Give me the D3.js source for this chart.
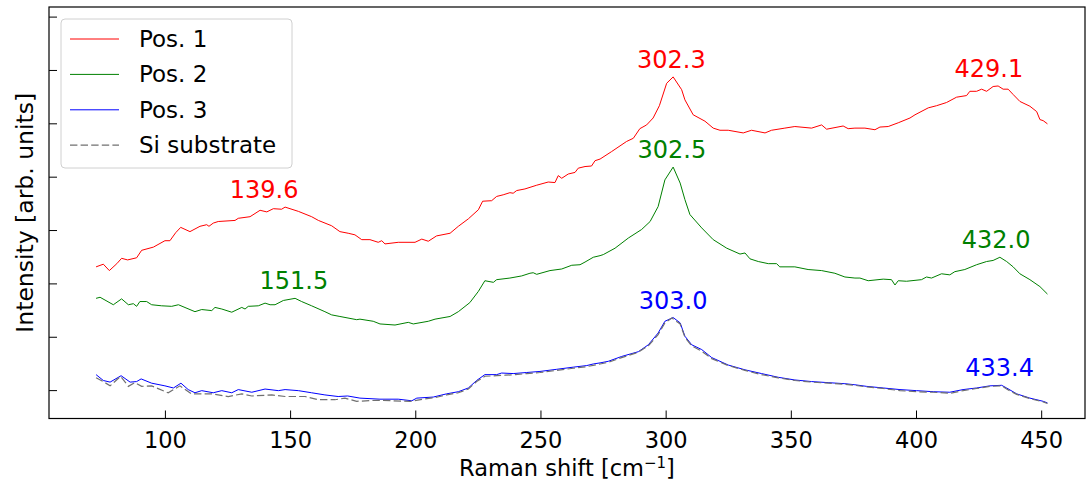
<!DOCTYPE html>
<html>
<head>
<meta charset="utf-8">
<script src="https://cdn.jsdelivr.net/npm/d3@7"></script>
<style>
    body { margin: 0; background: #fff; }
    #chart { width: 1086px; height: 482px; }
    text { font-family: "DejaVu Sans", sans-serif; }
</style>
</head>
<body>
<div id="chart"></div>
<script>

// Raman spectra (x in cm-1, intensity in arb. units)
const pos1X = [72.5, 75.4, 77.8, 80.8, 82.7, 85.1, 88.7, 90.7, 95.4, 100, 102, 104.3, 106.3, 110, 114, 116.7, 117.6, 119.3, 121.3, 128, 129.3, 134, 138, 140.7, 143.3, 146.6, 148, 153.3, 158.6, 161.3, 166.6, 169.9, 173.2, 175.9, 178.6, 181.9, 185.2, 186.6, 187.9, 193.2, 199.9, 202.6, 205.2, 208.5, 213.9, 217.2, 221.2, 225.2, 226.9, 230.5, 232.5, 235.1, 237.8, 239.1, 240.5, 243.8, 248.5, 253.1, 255.8, 257.1, 258.5, 261.1, 263.8, 265.1, 267.8, 270.4, 271.8, 273.8, 278.4, 284.4, 287.1, 289.7, 292.4, 295, 297.5, 300.4, 303, 306.4, 307.7, 311, 315.7, 319, 321.7, 325, 331, 334.3, 339.7, 342.3, 347.6, 351.6, 358.3, 362.3, 364.3, 370.9, 372.9, 375.6, 379.6, 383.6, 385.6, 388.9, 392.9, 397.6, 399.6, 404.9, 408.2, 412.2, 416.2, 420.2, 421.5, 424.2, 426.2, 428.2, 430.8, 432.8, 434.8, 436.8, 438.8, 441.5, 445.5, 448.2, 449.5, 450.8, 452.5];
const pos1Y = [2.31, 2.36, 2.24, 2.37, 2.47, 2.44, 2.48, 2.62, 2.68, 2.80, 2.80, 2.95, 3.05, 2.97, 3.07, 3.10, 3.07, 3.13, 3.16, 3.18, 3.22, 3.25, 3.37, 3.34, 3.40, 3.39, 3.43, 3.35, 3.25, 3.18, 3.08, 2.97, 2.94, 2.91, 2.82, 2.82, 2.77, 2.80, 2.74, 2.77, 2.77, 2.83, 2.79, 2.89, 2.94, 3.07, 3.21, 3.38, 3.54, 3.55, 3.63, 3.66, 3.70, 3.69, 3.74, 3.77, 3.84, 3.90, 3.89, 4.02, 3.97, 4.05, 4.08, 4.16, 4.19, 4.20, 4.30, 4.33, 4.47, 4.66, 4.72, 4.90, 4.97, 5.10, 5.33, 5.75, 5.87, 5.63, 5.44, 5.16, 5.04, 4.91, 4.87, 4.87, 4.82, 4.87, 4.82, 4.87, 4.91, 4.94, 4.91, 4.97, 4.89, 4.95, 4.90, 4.91, 4.91, 4.88, 4.93, 4.94, 5.01, 5.10, 5.16, 5.29, 5.33, 5.39, 5.49, 5.52, 5.60, 5.60, 5.64, 5.60, 5.69, 5.70, 5.64, 5.64, 5.54, 5.41, 5.32, 5.22, 5.07, 5.05, 4.99];

const pos2X = [72.5, 74.1, 79.4, 82.7, 85.4, 87.4, 88.7, 90, 92.7, 94.7, 98.7, 102.7, 105.4, 112, 114.7, 118.7, 120, 122.7, 126.7, 130.7, 132, 133.3, 137.3, 140, 142, 144, 147.3, 152, 154.6, 158.6, 163.9, 166.6, 169.9, 176.6, 177.9, 183.2, 185.9, 191.9, 197.2, 199.2, 205.2, 207.9, 213.9, 217.2, 221.8, 225.2, 227.8, 231.2, 232.5, 237.8, 242.5, 245.8, 247.1, 248.5, 253.8, 258.5, 262.5, 265.8, 267.8, 271.1, 273.8, 275.1, 279.8, 285.1, 290.4, 293.8, 297, 299.7, 303, 305.8, 307.7, 309.7, 314.4, 319, 324.4, 329.7, 331.7, 333.7, 337, 341, 344.3, 345.6, 351.6, 356.9, 362.3, 367.6, 371.6, 375.6, 377.6, 380.9, 386.9, 390.2, 391.6, 392.9, 396.2, 402.2, 404.2, 406.2, 410.2, 413.5, 415.5, 419.5, 424.2, 428.2, 430.8, 433.5, 436.2, 438.8, 441.5, 445.5, 449.5, 452.5];
const pos2Y = [1.72, 1.74, 1.60, 1.71, 1.60, 1.62, 1.57, 1.66, 1.66, 1.60, 1.58, 1.57, 1.60, 1.47, 1.51, 1.49, 1.55, 1.52, 1.46, 1.55, 1.52, 1.57, 1.58, 1.63, 1.60, 1.60, 1.68, 1.72, 1.66, 1.58, 1.47, 1.41, 1.38, 1.32, 1.33, 1.29, 1.24, 1.22, 1.27, 1.24, 1.29, 1.33, 1.38, 1.47, 1.64, 1.85, 2.05, 2.02, 2.07, 2.10, 2.14, 2.19, 2.20, 2.17, 2.24, 2.27, 2.34, 2.35, 2.40, 2.49, 2.52, 2.54, 2.66, 2.85, 3.01, 3.16, 3.44, 3.94, 4.18, 3.88, 3.57, 3.29, 3.04, 2.82, 2.66, 2.55, 2.57, 2.46, 2.41, 2.37, 2.37, 2.31, 2.31, 2.26, 2.24, 2.19, 2.12, 2.10, 2.10, 2.05, 2.08, 2.07, 1.97, 2.05, 2.04, 2.07, 2.12, 2.10, 2.18, 2.16, 2.22, 2.26, 2.35, 2.41, 2.43, 2.49, 2.41, 2.31, 2.18, 2.07, 1.94, 1.80];

const pos3X = [72.5, 75.4, 78.1, 82.5, 86.1, 88.7, 90.5, 94.7, 100, 103.4, 106.4, 109.3, 112, 114.7, 119.3, 122.7, 126.7, 129.3, 134.7, 140, 145.3, 148, 153.3, 158.6, 163.9, 169.2, 173, 177.9, 185.9, 193.2, 198.6, 200.6, 207.2, 212.5, 217.2, 221.2, 224.5, 227.8, 232.5, 234.5, 239.1, 244.5, 249.8, 256.5, 263.1, 268.5, 271.1, 273.8, 277.1, 282.4, 289.1, 293.1, 297, 299.7, 303, 305.8, 307.7, 310.4, 314.4, 318.4, 325, 331.7, 338.3, 345, 351.6, 358.3, 364.9, 371.6, 375.6, 380.3, 386.9, 393.6, 400.2, 406.9, 413.5, 418.8, 424.2, 429.5, 434.2, 436.2, 440.2, 445.5, 450.8, 452.5];
const pos3Y = [0.29, 0.18, 0.15, 0.27, 0.15, 0.16, 0.21, 0.13, 0.08, 0.04, 0.13, 0.01, -0.05, -0.01, -0.05, -0.01, -0.05, 0.01, -0.04, 0.02, -0.01, 0.01, -0.01, -0.05, -0.09, -0.12, -0.11, -0.15, -0.17, -0.17, -0.20, -0.15, -0.13, -0.07, -0.03, 0.04, 0.18, 0.29, 0.29, 0.32, 0.31, 0.33, 0.35, 0.39, 0.43, 0.46, 0.49, 0.51, 0.54, 0.63, 0.72, 0.85, 1.07, 1.29, 1.36, 1.26, 1.01, 0.85, 0.76, 0.61, 0.47, 0.38, 0.31, 0.24, 0.19, 0.16, 0.14, 0.12, 0.10, 0.07, 0.04, 0.01, -0.01, -0.03, -0.04, 0.01, 0.04, 0.08, 0.09, 0.04, -0.07, -0.15, -0.21, -0.24];

const siX = [72.5, 75.4, 78.1, 82.3, 85.4, 88, 90.7, 94.7, 101.3, 106, 110.6, 118.7, 125.3, 130.7, 134.7, 142.7, 148, 156, 161.3, 167.9, 171.9, 176.6, 185, 191, 198, 203, 208, 212.5, 217.2, 221.2, 224.5, 227.8, 232.5, 236, 240, 244.5, 249.8, 256.5, 263.1, 268.5, 273.8, 277.1, 282.4, 289.1, 293.1, 297, 299.7, 302.5, 305.8, 307.7, 310.4, 314.4, 318.4, 325, 331.7, 338.3, 345, 351.6, 358.3, 364.9, 371.6, 375.6, 380.3, 386.9, 393.6, 400.2, 406.9, 413.5, 418.8, 424.2, 429.5, 434.2, 436.2, 440.2, 445.5, 450.8, 452.5];
const siY = [0.23, 0.16, 0.08, 0.26, 0.07, 0.14, 0.07, 0.08, -0.05, 0.08, -0.07, -0.07, -0.12, -0.07, -0.11, -0.09, -0.12, -0.12, -0.18, -0.18, -0.15, -0.21, -0.19, -0.20, -0.21, -0.17, -0.14, -0.09, -0.05, 0.02, 0.16, 0.26, 0.27, 0.28, 0.29, 0.31, 0.33, 0.37, 0.41, 0.44, 0.49, 0.52, 0.61, 0.71, 0.83, 1.04, 1.26, 1.35, 1.24, 0.99, 0.83, 0.73, 0.59, 0.46, 0.37, 0.29, 0.23, 0.18, 0.15, 0.13, 0.11, 0.09, 0.06, 0.03, -0.01, -0.03, -0.04, -0.06, -0.01, 0.03, 0.07, 0.08, 0.02, -0.08, -0.16, -0.22, -0.25];

// series names, in legend order
const seriesNames = ["Pos. 1", "Pos. 2", "Pos. 3", "Si substrate"];

// axis ticks
const xTicks = [100, 150, 200, 250, 300, 350, 400, 450];
const yTicks = [0, 1, 2, 3, 4, 5, 6, 7];

// peak positions annotated on the curves: series index and wavenumber
const peakSeries = [0, 0, 0, 1, 1, 1, 2, 2];
const peakValues = [139.6, 302.3, 429.1, 151.5, 302.5, 432.0, 303.0, 433.4];


class RamanChart {

    constructor(parentElement) {
        this.parentElement = parentElement;
        this.initVis();
    }

    initVis() {
        let vis = this;

        vis.margin = {top: 7, right: 1, bottom: 63.5, left: 49};
        vis.width = 1086 - vis.margin.left - vis.margin.right;
        vis.height = 482 - vis.margin.top - vis.margin.bottom;

        vis.svg = d3.select("#" + vis.parentElement).append("svg")
            .attr("width", 1086)
            .attr("height", 482)
            .append("g")
            .attr("transform", `translate(${vis.margin.left}, ${vis.margin.top})`);

        vis.x = d3.scaleLinear().domain([53.7, 467.5]).range([0, vis.width]);
        vis.y = d3.scaleLinear().domain([-0.532, 7.18]).range([vis.height, 0]);

        vis.styles = [
            {color: "red", dash: null, width: 1},
            {color: "green", dash: null, width: 1},
            {color: "blue", dash: null, width: 1},
            {color: "#707070", dash: "7.4,3.2", width: 1.2}
        ];

        vis.wrangleData();
    }

    wrangleData() {
        let vis = this;

        let pairs = (xs, ys) => d3.range(Math.min(xs.length, ys.length)).map(i => ({x: xs[i], y: ys[i]}));

        vis.displayData = [
            pairs(pos1X, pos1Y),
            pairs(pos2X, pos2Y),
            pairs(pos3X, pos3Y),
            pairs(siX, siY)
        ];

        // label sits above the highest point near the peak
        vis.peaks = peakValues.map(function(p, i) {
            let s = peakSeries[i];
            let near = vis.displayData[s].filter(d => Math.abs(d.x - p) <= 10);
            return {series: s, x: p, y: d3.max(near, d => d.y)};
        });

        vis.updateVis();
    }

    updateVis() {
        let vis = this;

        // ticks pointing inward
        let xAxis = d3.axisBottom(vis.x).tickValues(xTicks).tickSize(-8).tickPadding(14);
        let yAxis = d3.axisLeft(vis.y).tickValues(yTicks).tickSize(-8).tickFormat("");

        let gx = vis.svg.append("g")
            .attr("transform", `translate(0, ${vis.height})`)
            .call(xAxis);
        gx.select(".domain").remove();
        gx.selectAll("text").attr("font-size", 22.5).attr("fill", "#000").attr("dy", "0.71em");
        gx.selectAll("line").attr("stroke", "#000");

        let gy = vis.svg.append("g").call(yAxis);
        gy.select(".domain").remove();
        gy.selectAll("line").attr("stroke", "#000");

        // curves
        let line = d3.line().x(d => vis.x(d.x)).y(d => vis.y(d.y));

        vis.svg.append("g").selectAll("path")
            .data(vis.displayData)
            .enter()
            .append("path")
            .attr("d", line)
            .attr("fill", "none")
            .attr("stroke", (d, i) => vis.styles[i].color)
            .attr("stroke-width", (d, i) => vis.styles[i].width)
            .attr("stroke-dasharray", (d, i) => vis.styles[i].dash);

        // peak labels
        vis.svg.append("g").selectAll("text")
            .data(vis.peaks)
            .enter()
            .append("text")
            .attr("x", d => vis.x(d.x))
            .attr("y", d => vis.y(d.y) - 9)
            .attr("text-anchor", "middle")
            .attr("font-size", 24)
            .attr("fill", d => vis.styles[d.series].color)
            .text(d => d.x.toFixed(1));

        // frame
        vis.svg.append("rect")
            .attr("width", vis.width)
            .attr("height", vis.height)
            .attr("fill", "none")
            .attr("stroke", "#000")
            .attr("stroke-width", 1.2);

        // axis labels
        let xLabel = vis.svg.append("text")
            .attr("x", vis.width / 2)
            .attr("y", vis.height + 57)
            .attr("text-anchor", "middle")
            .attr("font-size", 22.5);
        xLabel.append("tspan").text("Raman shift [cm");
        xLabel.append("tspan").attr("dy", -8).attr("font-size", 15).text("\u22121");
        xLabel.append("tspan").attr("dy", 8).text("]");

        vis.svg.append("text")
            .attr("transform", `translate(${-49 + 33}, ${vis.height / 2}) rotate(-90)`)
            .attr("text-anchor", "middle")
            .attr("font-size", 23.5)
            .text("Intensity [arb. units]");

        // legend
        let legend = vis.svg.append("g").attr("transform", "translate(12, 12)");
        legend.append("rect")
            .attr("width", 231)
            .attr("height", 149)
            .attr("rx", 4)
            .attr("fill", "#fff")
            .attr("fill-opacity", 0.8)
            .attr("stroke", "#d0d0d0");

        let rows = legend.selectAll(".row")
            .data(seriesNames)
            .enter()
            .append("g")
            .attr("transform", (d, i) => `translate(0, ${20 + i * 35.4})`);

        rows.append("line")
            .attr("x1", 9).attr("x2", 58)
            .attr("stroke", (d, i) => vis.styles[i].color)
            .attr("stroke-width", (d, i) => vis.styles[i].width)
            .attr("stroke-dasharray", (d, i) => vis.styles[i].dash);

        rows.append("text")
            .attr("x", 78)
            .attr("y", 8)
            .attr("font-size", 23)
            .text(d => d);
    }
}

new RamanChart("chart");
</script>
</body>
</html>
